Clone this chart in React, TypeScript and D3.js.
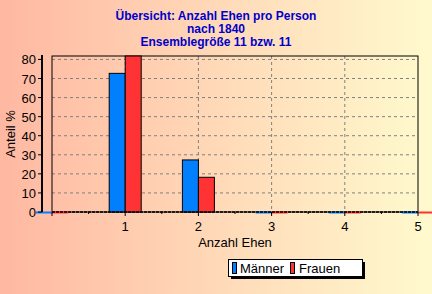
import React from "react";
import * as d3 from "d3";

const categories = [0, 1, 2, 3, 4, 5];
const maenner = [0, 72.7, 27.3, 0, 0, 0];
const frauen = [0, 81.8, 18.2, 0, 0, 0];
const yTicks = [0, 10, 20, 30, 40, 50, 60, 70, 80];
const xTicks = [1, 2, 3, 4, 5];
const titleLines = ["Übersicht: Anzahl Ehen pro Person", "nach 1840", "Ensemblegröße 11 bzw. 11"];
const seriesNames = ["Männer", "Frauen"];
const colors = ["#0080FF", "#FF3333"];

export default function App() {
  const W = 432, H = 294;
  const left = 52, right = 418, top = 56, bottom = 212;
  const x = d3.scaleLinear().domain([0, 5]).range([left, right]);
  const y = d3.scaleLinear().domain([0, 81.8]).range([bottom, top]);
  const bw = 16;
  const font = "Liberation Sans, Arial, sans-serif";
  const minor = d3.range(0, 5.01, 0.5);
  return (
    <svg width={W} height={H} style={{ position: "absolute", left: 0, top: 0 }}>
      <defs>
        <linearGradient id="bg" x1="0" x2="1" y1="0" y2="0">
          <stop offset="0" stopColor="#FFB8A2" />
          <stop offset="1" stopColor="#FFFACD" />
        </linearGradient>
      </defs>
      <rect x={0} y={0} width={W} height={H} fill="url(#bg)" />
      {titleLines.map((t, i) => (
        <text key={i} x={216} y={20 + i * 13} textAnchor="middle" fontFamily={font} fontSize={12} fontWeight="bold" fill="#0000CC">{t}</text>
      ))}
      {yTicks.slice(1).map((v) => (
        <line key={"gy" + v} x1={left} x2={right} y1={y(v)} y2={y(v)} stroke="#808080" strokeDasharray="3,3" />
      ))}
      {xTicks.slice(0, 4).map((v) => (
        <line key={"gx" + v} x1={x(v)} x2={x(v)} y1={top} y2={bottom} stroke="#808080" strokeDasharray="3,3" />
      ))}
      <rect x={left} y={top} width={right - left} height={bottom - top} fill="none" stroke="#000" />
      {categories.map((c, i) => (
        <g key={"b" + c}>
          {maenner[i] > 0 ? (
            <rect x={x(c) - bw} y={y(maenner[i])} width={bw} height={bottom - y(maenner[i])} fill={colors[0]} stroke="#000" />
          ) : (
            <line x1={x(c) - bw} x2={x(c)} y1={bottom + 0.5} y2={bottom + 0.5} stroke={colors[0]} strokeWidth={2} />
          )}
          {frauen[i] > 0 ? (
            <rect x={x(c)} y={y(frauen[i])} width={bw} height={bottom - y(frauen[i])} fill={colors[1]} stroke="#000" />
          ) : (
            <line x1={x(c)} x2={x(c) + bw} y1={bottom + 0.5} y2={bottom + 0.5} stroke={colors[1]} strokeWidth={2} />
          )}
        </g>
      ))}
      <line x1={left} x2={right} y1={bottom} y2={bottom} stroke="#000" strokeWidth={1.5} strokeDasharray="3,1" />
      {minor.map((v) => (
        <line key={"xt" + v} x1={x(v)} x2={x(v)} y1={bottom} y2={bottom + (Number.isInteger(v) ? 4 : 2)} stroke="#000" />
      ))}
      {xTicks.map((v) => (
        <text key={"xl" + v} x={x(v)} y={231} textAnchor="middle" fontFamily={font} fontSize={13} fill="#000">{v}</text>
      ))}
      <text x={235} y={247} textAnchor="middle" fontFamily={font} fontSize={13} fill="#000">Anzahl Ehen</text>
      <line x1={42} x2={42} y1={top - 1} y2={bottom} stroke="#000" strokeWidth={2} />
      {yTicks.map((v) => (
        <g key={"yt" + v}>
          <line x1={38} x2={42} y1={y(v)} y2={y(v)} stroke="#000" />
          <text x={36} y={y(v) + 5} textAnchor="end" fontFamily={font} fontSize={13} fill="#000">{v}</text>
        </g>
      ))}
      <text transform={`translate(15,134) rotate(-90)`} textAnchor="middle" fontFamily={font} fontSize={13} fill="#000">Anteil %</text>
      <rect x={231} y={262} width={134} height={17} fill="#000" />
      <rect x={228.5} y={259.5} width={134} height={17} fill="#fff" stroke="#000" />
      <rect x={232.5} y={262.5} width={4} height={11} fill={colors[0]} stroke="#000" />
      <text x={240} y={273} fontFamily={font} fontSize={13} fill="#000">{seriesNames[0]}</text>
      <rect x={290.5} y={262.5} width={4} height={11} fill={colors[1]} stroke="#000" />
      <text x={299} y={273} fontFamily={font} fontSize={13} fill="#000">{seriesNames[1]}</text>
    </svg>
  );
}
